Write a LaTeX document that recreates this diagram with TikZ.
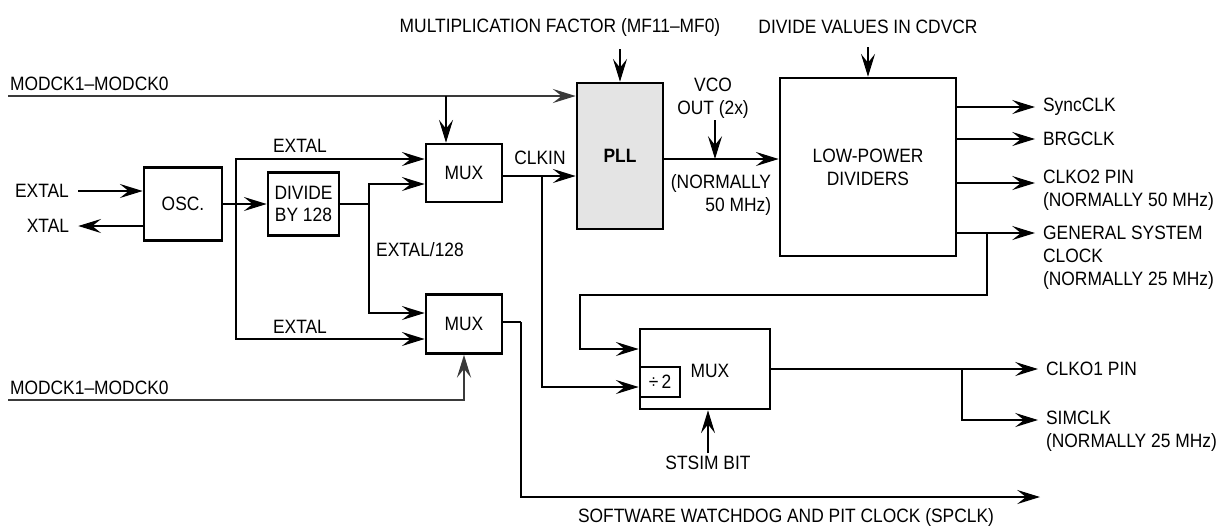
\documentclass[tikz,border=0pt]{standalone}
\usepackage{fontspec}
\setmainfont{Liberation Sans}[FakeStretch=0.9]
\usetikzlibrary{arrows.meta, positioning, calc}
\definecolor{pllGray}{HTML}{E4E4E4}
\definecolor{modLine}{HTML}{3A3A3A}

\begin{document}
\begin{tikzpicture}[
    x=0.02cm, y=-0.02cm,
    every node/.style={font=\fontsize{11}{13}\selectfont},
    block/.style={rectangle, draw, line width=1.5pt, inner sep=0pt, align=center},
    smallblock/.style={rectangle, draw, line width=1.1pt, inner sep=0pt},
    lbl/.style={inner sep=1pt, align=left},
    arr/.style={line width=0.7pt, -{Stealth[length=13pt, width=8pt, inset=5pt]}},
    wire/.style={line width=0.7pt},
    modline/.style={line width=1.1pt, draw=modLine},
  ]
    \useasboundingbox (0,0) rectangle (1225,529);

    % blocks
    \node[block, minimum width=1.56cm, minimum height=1.46cm] (osc) at (183,204) {OSC.};
    \node[block, minimum width=1.42cm, minimum height=1.26cm] (div) at (303.5,204) {DIVIDE\\BY 128};
    \node[block, minimum width=1.52cm, minimum height=1.16cm] (muxa) at (464,173) {MUX};
    \node[block, minimum width=1.52cm, minimum height=1.18cm] (muxb) at (464,324) {MUX};
    \node[block, fill=pllGray, minimum width=1.72cm, minimum height=2.92cm, font=\fontsize{11}{13}\selectfont\bfseries] (pll) at (620,156) {PLL};
    \node[block, minimum width=3.52cm, minimum height=3.56cm] (lpd) at (868,167) {LOW-POWER\\DIVIDERS};
    \node[block, minimum width=2.6cm, minimum height=1.6cm] (muxc) at (705,369) {};
    \node (muxctxt) at (710,371) {MUX};
    \node[smallblock, minimum width=0.8cm, minimum height=0.6cm] (half) at (660,382) {÷\,2};

    % top inputs
    \node (mf) at (560,27) {MULTIPLICATION FACTOR (MF11–MF0)};
    \node (cdv) at (868,27) {DIVIDE VALUES IN CDVCR};
    \draw[arr] ([yshift=-4pt]pll.north |- mf.south) -- (pll.north);
    \draw[arr] ([yshift=-4pt]cdv.south) -- (lpd.north);

    % mode lines
    \coordinate (mtop) at (8,96);
    \coordinate (mbr) at (446,96);
    \node[lbl, anchor=south west] (mtoplbl) at ([yshift=2pt]mtop) {MODCK1–MODCK0};
    \draw[arr, modline] (mtop) -- (pll.west |- mtop);
    \draw[arr] (mbr) -- (mbr |- muxa.north);
    \coordinate (mbot) at (8,400);
    \node[lbl, anchor=south west] (mbotlbl) at ([yshift=2pt]mbot) {MODCK1–MODCK0};
    \draw[arr, modline] (mbot) -| (muxb.south);

    % oscillator
    \node[lbl] (extin) at (42,191) {EXTAL};
    \node[lbl] (xtal) at (48,226) {XTAL};
    \draw[arr] ([xshift=4pt]extin.east) -- (osc.west |- extin);
    \draw[arr] (osc.west |- xtal) -- ([xshift=4pt]xtal.east);
    \draw[arr] (osc.east) -- (div.west);

    \coordinate (jo) at (236,204);
    \coordinate (jd) at (369,204);
    \draw[arr] (jo) |- ($(muxa.west)+(0,-14)$);
    \draw[arr] (jo) |- ($(muxb.west)+(0,15)$);
    \draw[wire] (div.east) -- (jd);
    \draw[arr] (jd) |- ($(muxa.west)+(0,11)$);
    \draw[arr] (jd) |- ($(muxb.west)+(0,-11)$);
    \node (exta) at (300,146) {EXTAL};
    \node (extb) at (300,327) {EXTAL};
    \node (ext128) at (420,250) {EXTAL/128};

    % clkin and pll
    \coordinate (clk) at (542,176);
    \draw[wire] (muxa.east |- clk) -- (clk);
    \draw[arr] (clk) -- (pll.west |- clk);
    \draw[arr] (clk) |- ($(muxc.west)+(0,18)$);
    \node (clkin) at (540,158) {CLKIN};

    \coordinate (vco) at (715,159);
    \draw[arr] (pll.east |- vco) -- (lpd.west |- vco);
    \draw[arr] (715,120) -- (vco);
    \node[align=center] (vcolbl) at (713,98) {VCO\\OUT (2x)};
    \node[align=right] (pllnorm) at (721,195) {(NORMALLY\\50 MHz)};

    % divider outputs
    \coordinate (osync) at (1035,107);
    \coordinate (obrg) at (1035,139);
    \coordinate (oclko2) at (1035,183);
    \coordinate (ogen) at (1035,233);
    \draw[arr] (lpd.east |- osync) -- (osync);
    \draw[arr] (lpd.east |- obrg) -- (obrg);
    \draw[arr] (lpd.east |- oclko2) -- (oclko2);
    \draw[arr] (lpd.east |- ogen) -- (ogen);
    \node[lbl, anchor=west] (sync) at (1041,107) {SyncCLK};
    \node[lbl, anchor=west] (brg) at (1041,139) {BRGCLK};
    \node[lbl, anchor=west] (clko2) at (1041,190) {CLKO2 PIN\\(NORMALLY 50 MHz)};
    \node[lbl, anchor=west] (gen) at (1041,258) {GENERAL SYSTEM\\CLOCK\\(NORMALLY 25 MHz)};

    % feedback into output mux
    \coordinate (gbr) at (987,233);
    \coordinate (fb) at (580,295);
    \draw[arr] (gbr) |- (fb) |- ($(muxc.west)+(0,-20)$);

    \node (stsim) at (708,463) {STSIM BIT};
    \draw[arr] ([yshift=-2pt]stsim.north) -- (stsim.north |- muxc.south);

    \coordinate (oclko1) at (1038,369);
    \coordinate (sbr) at (962,369);
    \coordinate (osim) at (1038,420);
    \draw[arr] (muxc.east) -- (oclko1);
    \draw[arr] (sbr) |- (osim);
    \node[lbl, anchor=west] (clko1) at (1044,369) {CLKO1 PIN};
    \node[lbl, anchor=west] (simclk) at (1044,431) {SIMCLK\\(NORMALLY 25 MHz)};

    % watchdog clock
    \coordinate (spbr) at (521,322);
    \coordinate (osp) at (1040,497);
    \draw[wire] (muxb.east |- spbr) -- (spbr);
    \draw[arr] (spbr) |- (osp);
    \node (splbl) at (786,517) {SOFTWARE WATCHDOG AND PIT CLOCK (SPCLK)};
  \end{tikzpicture}
\end{document}
